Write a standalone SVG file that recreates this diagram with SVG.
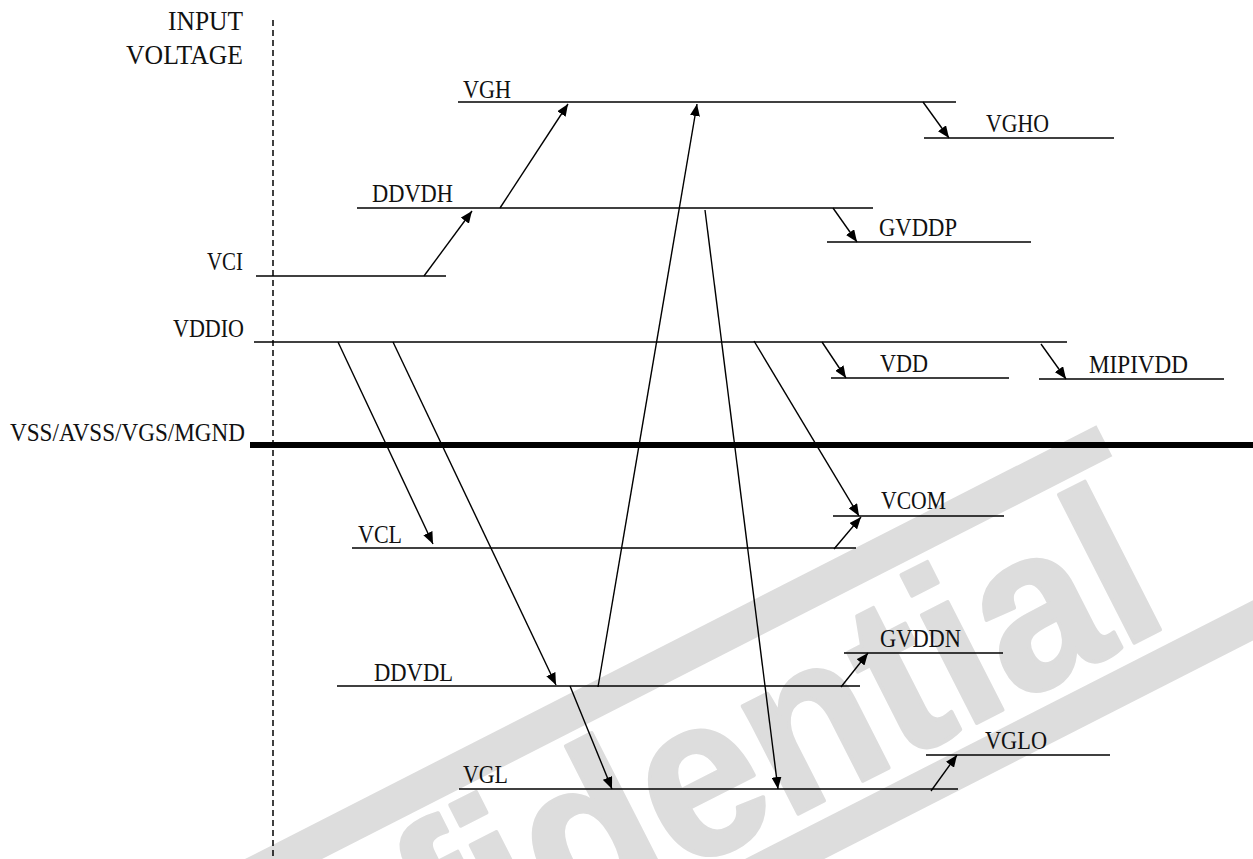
<svg xmlns="http://www.w3.org/2000/svg" width="1253" height="859" viewBox="0 0 1253 859">
<defs>
<style>
.lvl{stroke:#000;stroke-width:1.6;fill:none}
.gnd{stroke:#000;stroke-width:6;fill:none}
.con{stroke:#000;stroke-width:1.4;fill:none;marker-end:url(#ah)}
.lbl{font-family:"Liberation Serif","Times New Roman",serif;font-size:25px;fill:#111}
.big{font-family:"Liberation Serif","Times New Roman",serif;font-size:27px;fill:#111}
.wm{font-family:"Liberation Sans",Arial,sans-serif;font-weight:bold;font-size:229px;fill:#dddddd;stroke:#dddddd;stroke-width:4;stroke-linejoin:round}
.band{fill:#dddddd}
</style>
<marker id="ah" viewBox="0 0 12 10" refX="12" refY="5" markerWidth="12" markerHeight="10" markerUnits="userSpaceOnUse" orient="auto">
<path d="M0,0 L12,5 L0,10 z" fill="#000"/>
</marker>
</defs>
<rect width="1253" height="859" fill="#fff"/>
<g id="watermark" transform="translate(1173.5,622.7) rotate(-27)">
<rect class="band" x="-2000" y="-211" width="2021" height="35"/>
<rect class="band" x="-2000" y="16" width="2300" height="36"/>
<text class="wm" x="0" y="0" text-anchor="end" transform="scale(0.926,1)">Confidential</text>
</g>
<g id="axis">
<line x1="273" y1="20" x2="273" y2="859" stroke="#000" stroke-width="1.5" stroke-dasharray="6,4"/>
<text class="big" x="243" y="30" text-anchor="end" textLength="75" lengthAdjust="spacingAndGlyphs">INPUT</text>
<text class="big" x="243" y="64" text-anchor="end" textLength="117" lengthAdjust="spacingAndGlyphs">VOLTAGE</text>
</g>
<g id="VGH"><line class="lvl" x1="458" y1="102" x2="956" y2="102"/><text class="lbl" x="463" y="98" textLength="48" lengthAdjust="spacingAndGlyphs">VGH</text></g>
<g id="VGHO"><line class="lvl" x1="924" y1="138" x2="1114" y2="138"/><text class="lbl" x="986" y="132" textLength="63" lengthAdjust="spacingAndGlyphs">VGHO</text></g>
<g id="DDVDH"><line class="lvl" x1="357" y1="208" x2="873" y2="208"/><text class="lbl" x="372" y="202" textLength="81" lengthAdjust="spacingAndGlyphs">DDVDH</text></g>
<g id="GVDDP"><line class="lvl" x1="827" y1="242" x2="1031" y2="242"/><text class="lbl" x="879" y="236" textLength="78" lengthAdjust="spacingAndGlyphs">GVDDP</text></g>
<g id="VCI"><line class="lvl" x1="256" y1="276" x2="446" y2="276"/><text class="lbl" x="243" y="270" text-anchor="end" textLength="36" lengthAdjust="spacingAndGlyphs">VCI</text></g>
<g id="VDDIO"><line class="lvl" x1="254" y1="342" x2="1067" y2="342"/><text class="lbl" x="244" y="337" text-anchor="end" textLength="71" lengthAdjust="spacingAndGlyphs">VDDIO</text></g>
<g id="VDD"><line class="lvl" x1="831" y1="378" x2="1009" y2="378"/><text class="lbl" x="880" y="372" textLength="48" lengthAdjust="spacingAndGlyphs">VDD</text></g>
<g id="MIPIVDD"><line class="lvl" x1="1039" y1="379" x2="1224" y2="379"/><text class="lbl" x="1089" y="373" textLength="99" lengthAdjust="spacingAndGlyphs">MIPIVDD</text></g>
<g id="VSS"><line class="gnd" x1="250" y1="445" x2="1253" y2="445"/><text class="lbl" x="245" y="441" text-anchor="end" textLength="235" lengthAdjust="spacingAndGlyphs">VSS/AVSS/VGS/MGND</text></g>
<g id="VCOM"><line class="lvl" x1="833" y1="516" x2="1004" y2="516"/><text class="lbl" x="881" y="509" textLength="65" lengthAdjust="spacingAndGlyphs">VCOM</text></g>
<g id="VCL"><line class="lvl" x1="352" y1="548" x2="856" y2="548"/><text class="lbl" x="358" y="543" textLength="44" lengthAdjust="spacingAndGlyphs">VCL</text></g>
<g id="GVDDN"><line class="lvl" x1="844" y1="653" x2="1003" y2="653"/><text class="lbl" x="880" y="647" textLength="81" lengthAdjust="spacingAndGlyphs">GVDDN</text></g>
<g id="DDVDL"><line class="lvl" x1="337" y1="686" x2="860" y2="686"/><text class="lbl" x="374" y="681" textLength="79" lengthAdjust="spacingAndGlyphs">DDVDL</text></g>
<g id="VGLO"><line class="lvl" x1="926" y1="755" x2="1110" y2="755"/><text class="lbl" x="985" y="749" textLength="62" lengthAdjust="spacingAndGlyphs">VGLO</text></g>
<g id="VGL"><line class="lvl" x1="459" y1="789" x2="958" y2="789"/><text class="lbl" x="463" y="783" textLength="45" lengthAdjust="spacingAndGlyphs">VGL</text></g>
<g id="connectors">
<line class="con" x1="424" y1="276" x2="472" y2="211"/>
<line class="con" x1="500" y1="208" x2="568" y2="104"/>
<line class="con" x1="923" y1="102" x2="949" y2="138"/>
<line class="con" x1="833" y1="208" x2="857" y2="242"/>
<line class="con" x1="598" y1="687" x2="697" y2="104"/>
<line class="con" x1="705" y1="210" x2="778" y2="789"/>
<line class="con" x1="822" y1="342" x2="846" y2="378"/>
<line class="con" x1="1041" y1="344" x2="1066" y2="379"/>
<line class="con" x1="338" y1="342" x2="433" y2="544"/>
<line class="con" x1="393" y1="342" x2="556" y2="685"/>
<line class="con" x1="754" y1="341" x2="859" y2="516"/>
<line class="con" x1="834" y1="549" x2="861" y2="517"/>
<line class="con" x1="841" y1="687" x2="868" y2="653"/>
<line class="con" x1="570" y1="686" x2="612" y2="789"/>
<line class="con" x1="931" y1="791" x2="957" y2="755"/>
</g>
</svg>
